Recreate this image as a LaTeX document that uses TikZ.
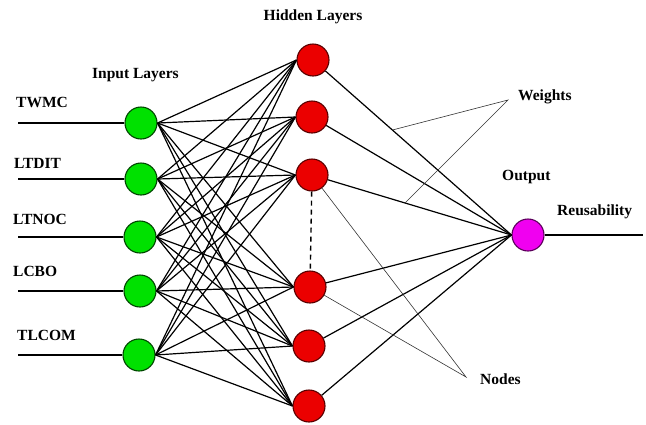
\documentclass[tikz,border=0pt]{standalone}
\usepackage{fontspec}
\setmainfont{Liberation Serif}
\begin{document}
\begin{tikzpicture}[x=1pt,y=-1pt,
  lbl/.style={font=\bfseries\fontsize{15.5}{18}\selectfont, inner sep=0pt, anchor=west, text height=10pt, text depth=3pt},
  neuron/.style={circle, minimum size=32pt, inner sep=0pt, line width=1.1pt},
  inp/.style={neuron, fill={rgb,255:red,0;green,225;blue,0}, draw={rgb,255:red,0;green,70;blue,0}},
  hid/.style={neuron, fill={rgb,255:red,235;green,0;blue,0}, draw={rgb,255:red,90;green,0;blue,0}},
  outn/.style={neuron, fill={rgb,255:red,240;green,0;blue,240}, draw={rgb,255:red,90;green,0;blue,90}},
  conn/.style={line width=1.2pt, black},
  ptr/.style={line width=0.6pt, black!80}]
\useasboundingbox (0,0) rectangle (646,424);

% input nodes
\node[inp] (i1) at (141,123) {};
\node[inp] (i2) at (141,179) {};
\node[inp] (i3) at (140,237) {};
\node[inp] (i4) at (140,291) {};
\node[inp] (i5) at (139,355) {};

% hidden nodes
\node[hid] (h1) at (313,60) {};
\node[hid] (h2) at (312,117) {};
\node[hid] (h3) at (312,175) {};
\node[hid] (h4) at (310,287) {};
\node[hid] (h5) at (309,346) {};
\node[hid] (h6) at (309,406) {};

% output
\node[outn] (o) at (528,235) {};

% input lines
\coordinate (s1) at (18,123);
\coordinate (s2) at (18,179);
\coordinate (s3) at (18,237);
\coordinate (s4) at (18,291);
\coordinate (s5) at (18,355);
\foreach \k in {1,...,5} \draw[line width=1.6pt] (s\k) -- (i\k);

% output line
\coordinate (e) at (643,235);
\draw[line width=1.6pt] (o) -- (e);

% connections
\foreach \a in {1,...,5}
  \foreach \b in {1,...,6}
    \draw[conn] (i\a.east) -- (h\b.west);
\foreach \b in {1,...,6}
  \draw[conn] (h\b) -- (o.west);

% dashed
\draw[line width=1.4pt, dashed, dash pattern=on 5pt off 4pt] (h3) -- (h4);

% labels
\node[lbl] (t1) at (16,104) {TWMC};
\node[lbl] (t2) at (14,165) {LTDIT};
\node[lbl] (t3) at (13,221) {LTNOC};
\node[lbl] (t4) at (13,273) {LCBO};
\node[lbl] (t5) at (17,337) {TLCOM};
\node[lbl] (il) at (92,75) {Input Layers};
\node[lbl, anchor=center] (hl) at (313,17) {Hidden Layers};
\node[lbl] (wl) at (518,97) {Weights};
\node[lbl] (ol) at (502,177) {Output};
\node[lbl] (rl) at (557,212) {Reusability};
\node[lbl] (nl) at (480,381) {Nodes};

% pointers
\coordinate (wa) at (508,100);
\path (h1) -- (o.west) coordinate[pos=0.36] (w1);
\path (h3) -- (o.west) coordinate[pos=0.42] (w2);
\draw[ptr] (w1) -- (wa) -- (w2);
\coordinate (na) at (466,377);
\draw[ptr] (h3) -- (na) -- (h4);
\end{tikzpicture}
\end{document}
